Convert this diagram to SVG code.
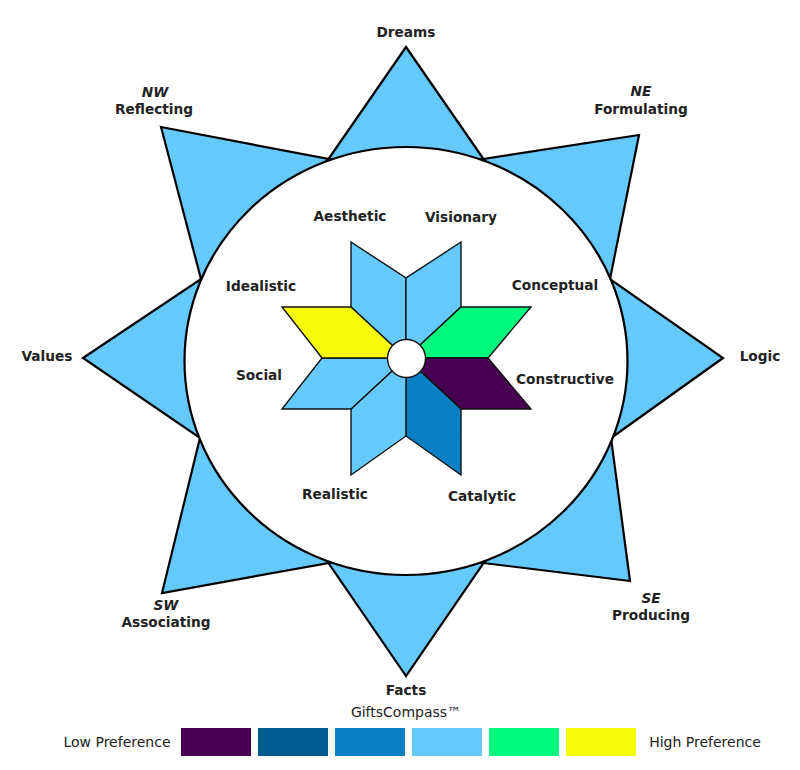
<svg xmlns="http://www.w3.org/2000/svg" width="800" height="770" viewBox="0 0 800 770">
<style>
.ray{fill:#66C9FB;stroke:#000;stroke-width:2.2;stroke-linejoin:miter}
.pet{stroke:#111;stroke-width:1.4;stroke-linejoin:miter}
.lb{font-family:"DejaVu Sans","Liberation Sans",sans-serif;font-weight:bold;font-size:13.7px;fill:#222;text-anchor:middle}
.it{font-style:italic}
.nl{font-family:"DejaVu Sans","Liberation Sans",sans-serif;font-size:14px;fill:#222;text-anchor:middle}
.lt{fill:#66C9FB}
</style>
<rect width="800" height="770" fill="#fff"/>
<g id="compass-rays">
<polygon class="ray" points="406,47 483.5,159 328.5,159"/>
<polygon class="ray" points="639,135 610,279 483.5,159"/>
<polygon class="ray" points="723,358 611,438 610,279"/>
<polygon class="ray" points="630,581 483.5,563 611,438"/>
<polygon class="ray" points="406,676 328.5,563 483.5,563"/>
<polygon class="ray" points="162,593 200,438 328.5,563"/>
<polygon class="ray" points="83,358 201,279 200,438"/>
<polygon class="ray" points="161,127 328.5,159 201,279"/>
</g>
<g id="compass-circle">
<ellipse cx="406" cy="361" rx="221.5" ry="214" fill="#fff" stroke="#000" stroke-width="2.2"/>
</g>
<g id="star">
<polygon id="aesthetic" class="pet lt" points="406,358 351,307 351,242 406,278"/>
<polygon id="visionary" class="pet lt" points="406,358 406,278 461,242 461,307"/>
<polygon id="conceptual" class="pet" fill="#00FA7D" points="406,358 461,307 531,307 488,358"/>
<polygon id="constructive" class="pet" fill="#470051" points="406,358 488,358 531,409 461,409"/>
<polygon id="catalytic" class="pet" fill="#0A80C4" points="406,358 461,409 461,475 406,436"/>
<polygon id="realistic" class="pet lt" points="406,358 406,436 351,475 351,409"/>
<polygon id="social" class="pet lt" points="406,358 351,409 282,409 322,358"/>
<polygon id="idealistic" class="pet" fill="#F6FB0A" points="406,358 322,358 282,307 351,307"/>
<circle cx="406.5" cy="358.5" r="19" fill="#fff" stroke="#111" stroke-width="1.4"/>
</g>
<g id="inner-labels">
<text class="lb" x="350" y="221">Aesthetic</text>
<text class="lb" x="461" y="222">Visionary</text>
<text class="lb" x="261" y="291">Idealistic</text>
<text class="lb" x="555" y="290">Conceptual</text>
<text class="lb" x="259" y="380">Social</text>
<text class="lb" x="565" y="384">Constructive</text>
<text class="lb" x="335" y="499">Realistic</text>
<text class="lb" x="482" y="501">Catalytic</text>
</g>
<g id="outer-labels">
<text class="lb" x="406" y="37">Dreams</text>
<text class="lb it" x="155" y="97">NW</text>
<text class="lb" x="154" y="114">Reflecting</text>
<text class="lb it" x="641" y="96">NE</text>
<text class="lb" x="641" y="114">Formulating</text>
<text class="lb" x="47" y="361">Values</text>
<text class="lb" x="760" y="361">Logic</text>
<text class="lb it" x="651" y="603">SE</text>
<text class="lb" x="651" y="620">Producing</text>
<text class="lb it" x="166" y="610">SW</text>
<text class="lb" x="166" y="627">Associating</text>
<text class="lb" x="406" y="695">Facts</text>
</g>
<g id="legend">
<text class="nl" x="406" y="717" font-size="13">GiftsCompass™</text>
<text class="nl" x="117" y="747">Low Preference</text>
<rect x="181" y="728" width="70" height="28" fill="#470051"/>
<rect x="258" y="728" width="70" height="28" fill="#005B8E"/>
<rect x="335" y="728" width="70" height="28" fill="#0A80C4"/>
<rect x="412" y="728" width="70" height="28" fill="#66C9FB"/>
<rect x="489" y="728" width="70" height="28" fill="#00FA7D"/>
<rect x="566" y="728" width="70" height="28" fill="#F6FB0A"/>
<text class="nl" x="705" y="747">High Preference</text>
</g>
</svg>
